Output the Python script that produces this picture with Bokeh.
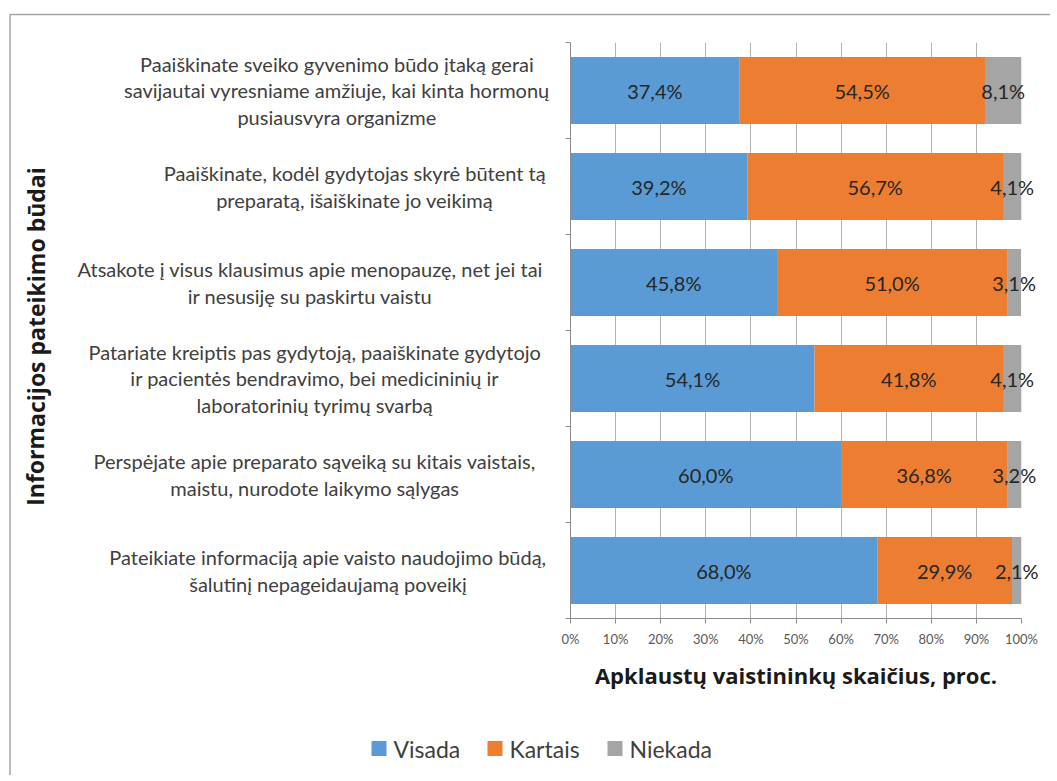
from bokeh.plotting import figure
from bokeh.models import Range1d, FixedTicker, PrintfTickFormatter, ColumnDataSource
from bokeh.core.properties import value
from bokeh.embed import file_html
from bokeh.resources import INLINE

# ---------------- data ----------------
categories = [
    "Paaiškinate sveiko gyvenimo būdo įtaką gerai\nsavijautai vyresniame amžiuje, kai kinta hormonų\npusiausvyra organizme",
    "Paaiškinate, kodėl gydytojas skyrė būtent tą\npreparatą, išaiškinate jo veikimą",
    "Atsakote į visus klausimus apie menopauzę, net jei tai\nir nesusiję su paskirtu vaistu",
    "Patariate kreiptis pas gydytoją, paaiškinate gydytojo\nir pacientės bendravimo, bei medicininių ir\nlaboratorinių tyrimų svarbą",
    "Perspėjate apie preparato sąveiką su kitais vaistais,\nmaistu, nurodote laikymo sąlygas",
    "Pateikiate informaciją apie vaisto naudojimo būdą,\nšalutinį nepageidaujamą poveikį",
]
visada = [37.4, 39.2, 45.8, 54.1, 60.0, 68.0]
kartais = [54.5, 56.7, 51.0, 41.8, 36.8, 29.9]
niekada = [8.1, 4.1, 3.1, 4.1, 3.2, 2.1]
series_names = ["Visada", "Kartais", "Niekada"]
x_ticks = [0, 10, 20, 30, 40, 50, 60, 70, 80, 90, 100]
x_title = "Apklaustų vaistininkų skaičius, proc."
y_title = "Informacijos pateikimo būdai"

# ---------------- styles / layout ----------------
colors = ["#5B9BD5", "#ED7D31", "#A5A5A5"]
FONT = "Lato"
TFONT = "Open Sans"
TXT = "#404040"
W, H = 1050, 775
FL, FR, FT, FB = 570, 1021, 42, 618   # frame edges in canvas px

n = len(categories)
ys = [n - 0.5 - i for i in range(n)]
series = [visada, kartais, niekada]

def px2x(px):
    return (px - FL) * 100.0 / (FR - FL)

def px2y(py):
    return n - (py - FT) * n / (FB - FT)

p = figure(width=W, height=H, output_backend="svg", toolbar_location=None,
           x_range=Range1d(0, 100), y_range=Range1d(0, n),
           min_border_left=FL, min_border_right=W - FR, min_border_top=FT,
           min_border_bottom=H - FB)
p.outline_line_color = None
p.background_fill_color = "white"
p.border_fill_color = "white"

left = [0.0] * n
for name, vals, col in zip(series_names, series, colors):
    right = [l + v for l, v in zip(left, vals)]
    src = ColumnDataSource(dict(y=ys, left=left, right=right,
                                mid=[(l + r) / 2 for l, r in zip(left, right)],
                                lab=[f"{v:.1f}%".replace(".", ",") for v in vals]))
    p.hbar(y="y", left="left", right="right", height=0.7, source=src,
           fill_color=col, line_color=None)
    p.text(x="mid", y="y", text="lab", source=src, text_align="center",
           text_baseline="middle", text_font=value(FONT), text_font_size="20px",
           text_color="#262626", level="overlay")
    left = right

# category labels (outside frame, not clipped)
char_w = 8.9
offs = [-(20 + char_w * max(len(s) for s in c.split("\n")) / 2) for c in categories]
csrc = ColumnDataSource(dict(x=[0] * n, y=ys, t=categories, off=offs))
p.text(x="x", y="y", text="t", x_offset="off", source=csrc, text_align="center",
       text_baseline="middle", text_font=value(FONT), text_font_size="20px",
       text_color=TXT, text_line_height=1.1, level="overlay")

# y title (rotated text)
p.text(x=[px2x(35)], y=[px2y(336)], text=[y_title],
       angle=1.5707963, text_align="center", text_baseline="middle",
       text_font=value(TFONT), text_font_size="23px", text_font_style="bold",
       text_color="#1a1a1a", level="overlay")

# axes
p.xaxis.ticker = FixedTicker(ticks=x_ticks)
p.xaxis.formatter = PrintfTickFormatter(format="%d%%")
p.xaxis.major_label_text_font = FONT
p.xaxis.major_label_text_font_size = "13px"
p.xaxis.major_label_text_color = "#595959"
p.xaxis.major_label_standoff = 7
p.xaxis.major_tick_out = 5
p.xaxis.major_tick_in = 0
p.xaxis.minor_tick_line_color = None
p.xaxis.axis_line_color = "#8c8c8c"
p.xaxis.major_tick_line_color = "#8c8c8c"
p.xaxis.axis_label = x_title
p.xaxis.axis_label_text_font = TFONT
p.xaxis.axis_label_text_font_size = "22px"
p.xaxis.axis_label_text_font_style = "bold"
p.xaxis.axis_label_text_color = "#1a1a1a"
p.xaxis.axis_label_standoff = 10

p.yaxis.ticker = FixedTicker(ticks=list(range(n + 1)))
p.yaxis.major_label_overrides = {i: "" for i in range(n + 1)}
p.yaxis.major_tick_out = 5
p.yaxis.major_tick_in = 0
p.yaxis.minor_tick_line_color = None
p.yaxis.axis_line_color = "#8c8c8c"
p.yaxis.major_tick_line_color = "#8c8c8c"

p.xgrid.ticker = FixedTicker(ticks=x_ticks)
p.xgrid.grid_line_color = "#b3b3b3"
p.ygrid.grid_line_color = None

# legend (drawn below the axis title, outside the frame)
leg_sw_px = [371, 487, 607]
for sx, nm, col in zip(leg_sw_px, series_names, colors):
    p.line(x=[px2x(sx), px2x(sx + 15)], y=[px2y(748), px2y(748)], line_color=col,
           line_width=15, line_cap="butt", level="overlay")
lsrc = ColumnDataSource(dict(tx=[px2x(v + 22) for v in leg_sw_px], y=[px2y(748)] * 3,
                             name=series_names))
p.text(x="tx", y="y", text="name", source=lsrc, text_align="left", text_baseline="middle",
       text_font=value(FONT), text_font_size="23px", text_color=TXT, level="overlay")

# chart border (left and top edges of the chart box)
p.line(x=[px2x(9.5), px2x(9.5), px2x(1200)], y=[px2y(900), px2y(14), px2y(14)],
       line_color="#a6a6a6", line_width=1.5, level="overlay")

open("out.html", "w").write(file_html(p, INLINE))
